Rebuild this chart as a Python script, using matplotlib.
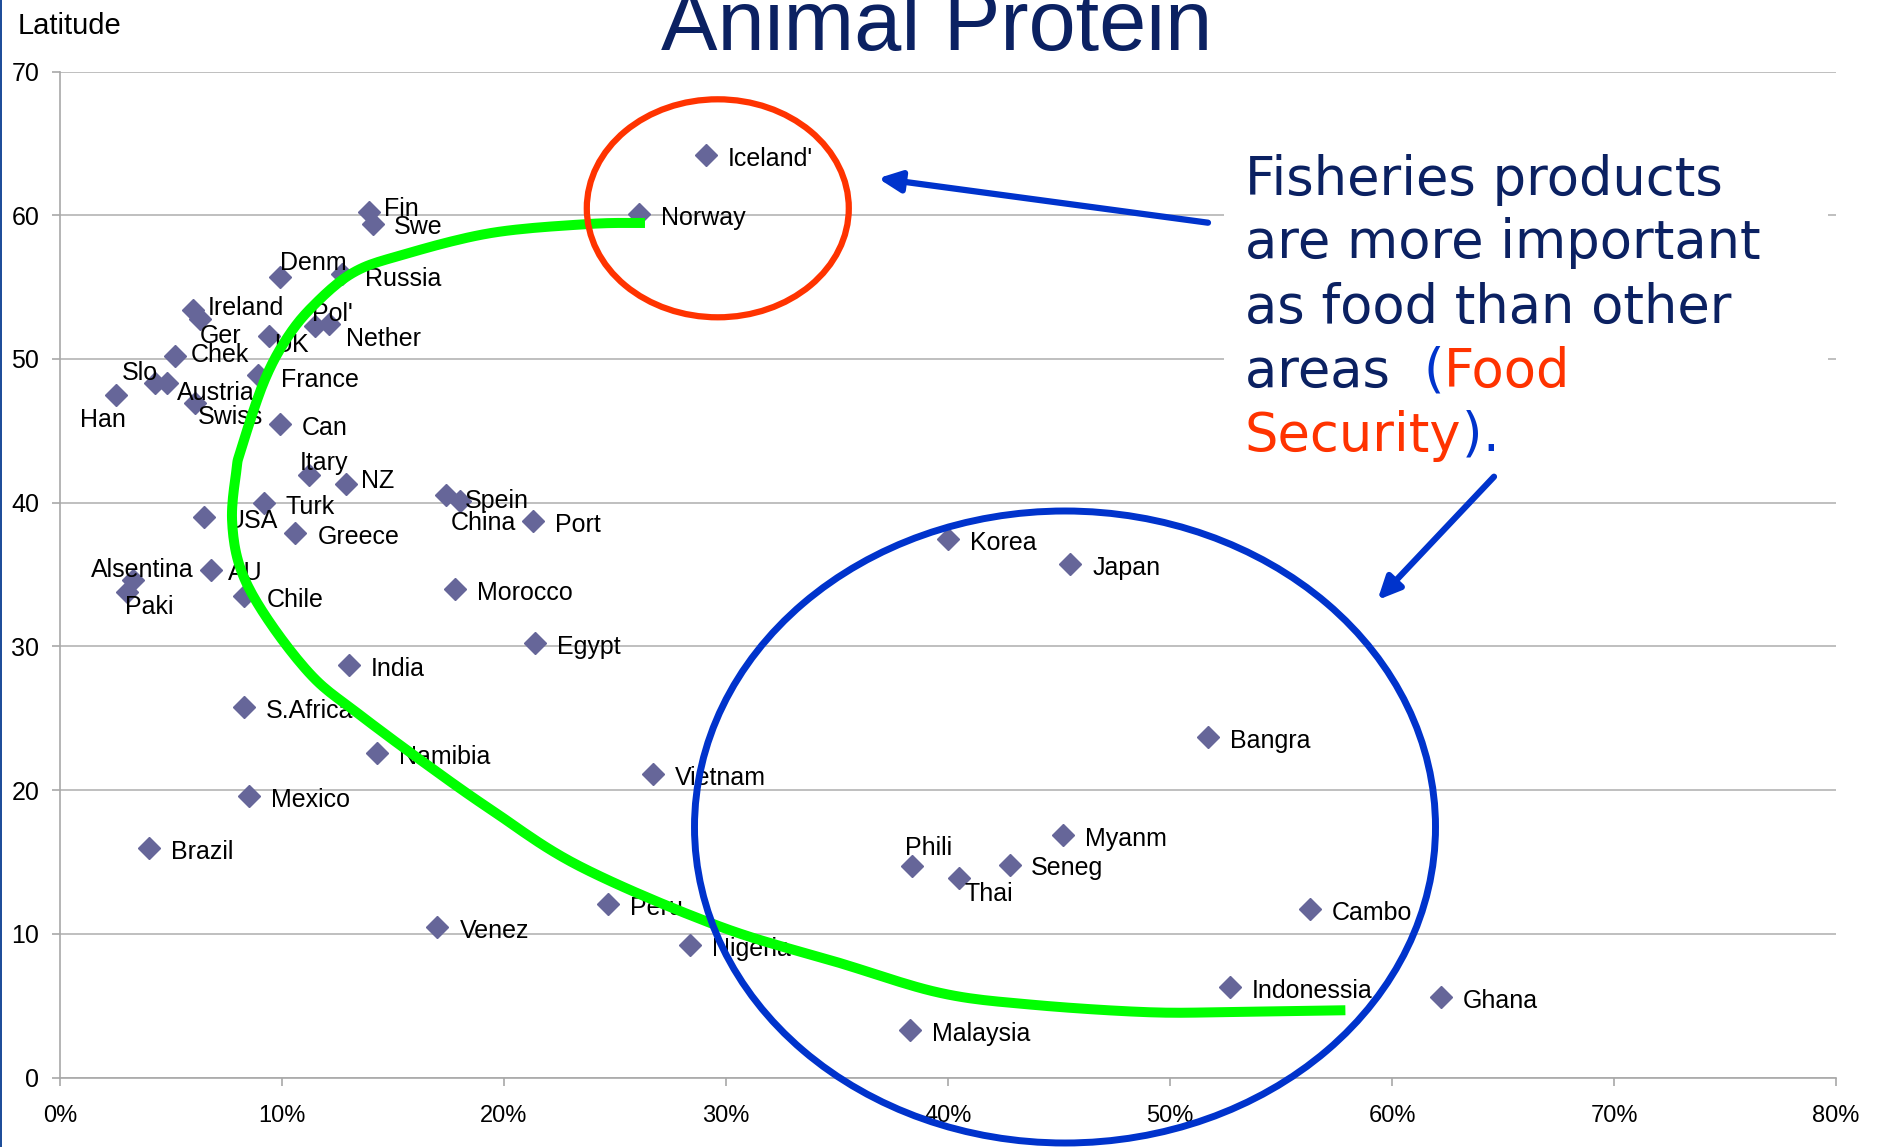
import numpy as np
import matplotlib
matplotlib.use("Agg")
import matplotlib.pyplot as plt
from matplotlib.patches import Ellipse, Rectangle, FancyArrowPatch
from matplotlib.text import Annotation
from matplotlib.ticker import FuncFormatter, MultipleLocator

# === DADOS (x = % proteina animal de pescado, y = latitude) ===
countries = ["Iceland'", 'Norway', 'Fin', 'Swe', 'Denm', 'Russia', 'Ireland', 'Ger',
             "Pol'", 'Nether', 'UK', 'Chek', 'France', 'Slo', 'Austria', 'Swiss', 'Han',
             'Can', 'Itary', 'NZ', 'Turk', 'USA', 'Greece', 'Spein', 'China', 'Port',
             'Alsentina', 'AU', 'Paki', 'Chile', 'Morocco', 'Egypt', 'India', 'S.Africa',
             'Namibia', 'Vietnam', 'Mexico', 'Brazil', 'Venez', 'Peru', 'Nigeria',
             'Korea', 'Japan', 'Bangra', 'Myanm', 'Phili', 'Seneg', 'Thai', 'Cambo',
             'Indonessia', 'Ghana', 'Malaysia']
share = [29.1, 26.1, 13.9, 14.1, 9.9, 12.7, 6.0, 6.3,
         11.5, 12.1, 9.4, 5.2, 8.9, 4.3, 4.8, 6.1, 2.5,
         9.9, 11.2, 12.9, 9.2, 6.5, 10.6, 18.0, 17.4, 21.3,
         3.3, 6.8, 3.0, 8.3, 17.8, 21.4, 13.0, 8.3,
         14.3, 26.7, 8.5, 4.0, 17.0, 24.7, 28.4,
         40.0, 45.5, 51.7, 45.2, 38.4, 42.8, 40.5, 56.3,
         52.7, 62.2, 38.3]
latitude = [64.2, 60.1, 60.2, 59.4, 55.7, 55.9, 53.4, 52.8,
            52.3, 52.4, 51.6, 50.2, 48.9, 48.3, 48.3, 46.9, 47.5,
            45.5, 41.9, 41.3, 40.0, 39.0, 37.9, 40.1, 40.5, 38.7,
            34.6, 35.3, 33.8, 33.5, 34.0, 30.2, 28.7, 25.8,
            22.6, 21.1, 19.6, 16.0, 10.5, 12.1, 9.2,
            37.5, 35.7, 23.7, 16.9, 14.7, 14.8, 13.9, 11.7,
            6.3, 5.6, 3.3]

# curva verde desenhada a mao (anotacao, nao e dado)
green_x = [26.35, 23.83, 19.41, 15.40, 13.18, 11.37, 10.17, 9.16, 8.15, 7.95, 7.75,
           8.15, 9.37, 11.37, 13.38, 16.40, 19.41, 23.42, 29.70, 35.10, 39.64,
           43.68, 49.07, 53.11, 57.90]
green_y = [59.46, 59.39, 58.76, 57.23, 55.98, 53.64, 51.32, 48.31, 43.67, 42.28, 38.80,
           35.33, 31.85, 27.91, 25.38, 21.91, 18.64, 14.69, 10.52, 7.98, 5.89,
           5.08, 4.54, 4.57, 4.68]

# deslocamento dos rotulos (px: dx, dy para baixo)
label_off = {'Fin': (15, -5), 'Swe': (21, 1), 'Denm': (0, -16), 'Russia': (23, 3),
             'Ireland': (15, -4), 'Ger': (0, 15), "Pol'": (-3, -14), 'Nether': (17, 13),
             'UK': (5, 7), 'Chek': (15, -3), 'France': (23, 3), 'Slo': (-34, -12),
             'Austria': (10, 8), 'Swiss': (2, 12), 'Han': (-36, 23), 'Itary': (-9, -14),
             'NZ': (15, -5), 'Turk': (21, 2), 'Spein': (5, -2), 'China': (4, 26),
             'Alsentina': (-42, -12), 'AU': (17, 1), 'Paki': (-2, 13), 'Phili': (-7, -20),
             'Thai': (5, 14), 'Seneg': (21, 1)}

W, H = 1878, 1147
NAVY = '#0B2162'
BLUE = '#0033CC'
RED = '#FF3300'
LAB = 'Liberation Sans'


def smooth(xs, ys, n=12):
    # catmull-rom so para suavizar o traco a mao
    p = np.column_stack([xs, ys])
    p = np.vstack([p[0], p, p[-1]])
    out = []
    for i in range(1, len(p) - 2):
        p0, p1, p2, p3 = p[i - 1], p[i], p[i + 1], p[i + 2]
        for t in np.linspace(0, 1, n, endpoint=False):
            out.append(0.5 * (2 * p1 + (-p0 + p2) * t + (2 * p0 - 5 * p1 + 4 * p2 - p3) * t ** 2
                              + (-p0 + 3 * p1 - 3 * p2 + p3) * t ** 3))
    out.append(p[-2])
    out = np.array(out)
    return out[:, 0], out[:, 1]


fig = plt.figure(figsize=(W / 100, H / 100), dpi=100)
ax = fig.add_axes([60 / W, 1 - 1077.5 / H, 1776 / W, 1006 / H])

ax.plot(share, latitude, ls='none', marker='D', ms=11, mfc='#666699', mec='#666699', zorder=3)

for name, x, y in zip(countries, share, latitude):
    dx, dy = label_off.get(name, (22, 2))
    ax.annotate(name, (x, y), xytext=(dx, -(dy + 9)), textcoords='offset pixels',
                ha='left', va='baseline', fontsize=18, family=LAB, color='black', zorder=4)

gx, gy = smooth(green_x, green_y)
ax.plot(gx, gy, color='#00FF00', lw=7.2, solid_capstyle='butt',
        solid_joinstyle='round', zorder=6, clip_on=False)

ax.set_xlim(0, 80)
ax.set_ylim(0, 70)
ax.xaxis.set_major_locator(MultipleLocator(10))
ax.yaxis.set_major_locator(MultipleLocator(10))
ax.xaxis.set_major_formatter(FuncFormatter(lambda v, p: f'{v:.0f}%'))
ax.grid(axis='y', color='#B4B4B4', lw=1.2)
ax.set_axisbelow(True)
for s in ['top', 'right']:
    ax.spines[s].set_visible(False)
for s in ['left', 'bottom']:
    ax.spines[s].set_color('#A8A8A8')
    ax.spines[s].set_linewidth(1.2)
ax.tick_params(axis='x', direction='out', length=6, width=1.2, color='#A8A8A8', pad=14,
               labelsize=17)
ax.tick_params(axis='y', direction='out', length=6, width=1.2, color='#A8A8A8', pad=9,
               labelsize=18)
for t in ax.get_xticklabels() + ax.get_yticklabels():
    t.set_family(LAB)

# === TEXTOS DO SLIDE ===
fig.text(937 / W, 1 - 50 / H, 'Animal Protein', fontsize=61, family=LAB, color=NAVY,
         ha='center', va='baseline')
fig.text(18 / W, 1 - 34 / H, 'Latitude', fontsize=21, family=LAB, color='black',
         ha='left', va='baseline')

# caixa branca atras do texto
fig.add_artist(Rectangle((1224 / W, 1 - 480 / H), 604 / W, 350 / H, transform=fig.transFigure,
                         facecolor='white', edgecolor='none', zorder=1))
# borda azul do slide
fig.add_artist(Rectangle((0, 0), 2 / W, 1, transform=fig.transFigure,
                         facecolor='#1F4E9A', edgecolor='none', zorder=1))

lines = [
    [('Fisheries products', NAVY)],
    [('are more important', NAVY)],
    [('as food than other', NAVY)],
    [('areas  ', NAVY), ('(', BLUE), ('Food', RED)],
    [('Security', RED), (')', BLUE), ('.', BLUE)],
]
baselines = [195, 258.3, 322.7, 386.7, 450.7]
for pieces, yb in zip(lines, baselines):
    s, c = pieces[0]
    prev = fig.text(1245 / W, 1 - yb / H, s, color=c, fontsize=38, family='DejaVu Sans',
                    ha='left', va='baseline', zorder=2)
    for s, c in pieces[1:]:
        a = Annotation(s, xy=(1, 0), xycoords=prev, ha='left', va='bottom', color=c,
                       fontsize=38, family='DejaVu Sans', zorder=2)
        fig.add_artist(a)
        prev = a

# elipses e setas
fig.add_artist(Ellipse((717.8 / W, 1 - 208.3 / H), 262 / W, 218 / H, transform=fig.transFigure,
                       fill=False, edgecolor=RED, lw=4.5, zorder=3))
fig.add_artist(Ellipse((1065 / W, 1 - 827 / H), 741 / W, 632 / H, transform=fig.transFigure,
                       fill=False, edgecolor=BLUE, lw=5, zorder=3))
for (x1, y1), (x2, y2) in [((1208, 222.7), (878, 178.3)), ((1494, 476.7), (1377.5, 600))]:
    fig.add_artist(FancyArrowPatch((x1 / W, 1 - y1 / H), (x2 / W, 1 - y2 / H),
                                   transform=fig.transFigure,
                                   arrowstyle='-|>,head_length=0.75,head_width=0.35',
                                   mutation_scale=18, lw=4.5, color=BLUE,
                                   shrinkA=0, shrinkB=0, zorder=3))

fig.savefig('out.png', dpi=100, facecolor='white')
